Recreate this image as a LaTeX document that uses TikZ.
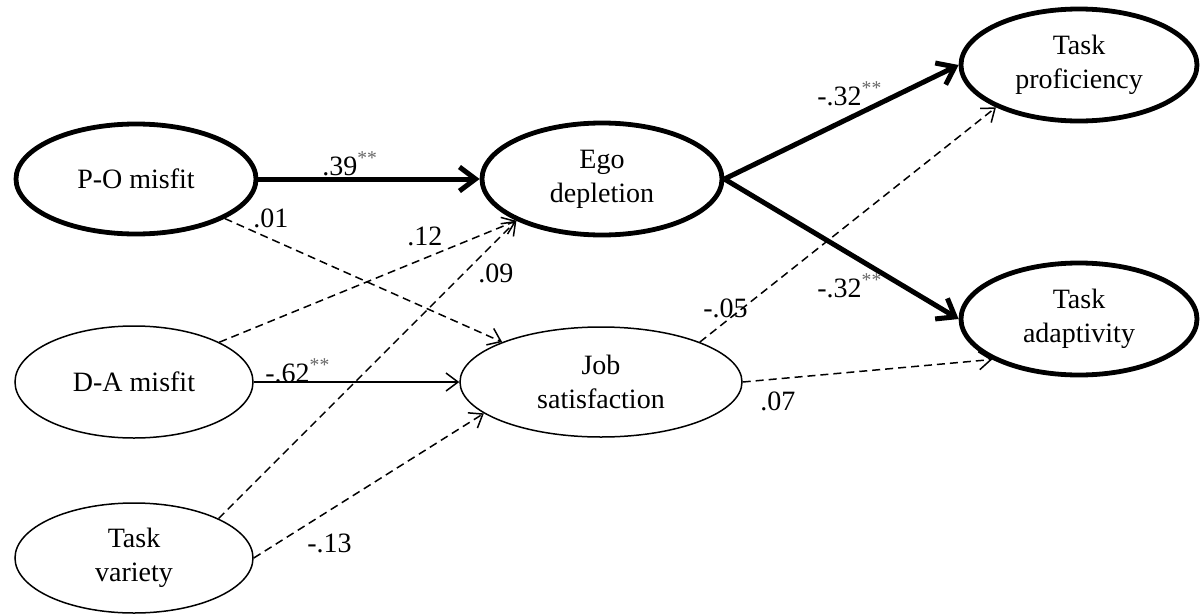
\documentclass[tikz,border=0pt]{standalone}
\usepackage{fontspec}
\setmainfont{Liberation Serif}
\usetikzlibrary{shapes.geometric,arrows.meta}

\begin{document}
\begin{tikzpicture}[x=0.5pt,y=-0.5pt,
var/.style={%
ellipse,
draw,
line width=0.75pt,
align=center,
inner sep=1pt,
minimum width=119pt,
minimum height=56pt,
font=\fontsize{14}{17}\selectfont
},
keyvar/.style={%
var,
line width=2.4pt
},
sig/.style={%
line width=2.5pt,
-{Straight Barb[length=8pt,width=12pt]}
},
weak/.style={%
line width=0.75pt,
-{Straight Barb[length=6pt,width=9pt]}
},
ns/.style={%
weak,
dash pattern=on 4pt off 2.5pt
},
coef/.style={%
anchor=base west,
inner sep=0pt,
font=\fontsize{14}{17}\selectfont
},
]
\useasboundingbox (0,0) rectangle (1201,616);
%% Variables
\node[keyvar,minimum width=120pt,minimum height=55pt](po)at(136,179){P-O misfit};
\node[var](da)at(134,382){D-A misfit};
\node[var,minimum height=55pt](tv)at(134,558){Task\\variety};
\node[keyvar,minimum width=120pt](ego)at(602,179){Ego\\depletion};
\node[var,minimum width=141pt,minimum height=55pt](js)at(601,382){Job\\satisfaction};
\node[keyvar,minimum width=118pt](tp)at(1079,65){Task\\proficiency};
\node[keyvar,minimum width=118pt](ta)at(1079,319){Task\\adaptivity};
%% Paths
\draw[sig](po)--(ego);
\draw[sig](ego.east)--(tp.west);
\draw[sig](ego.east)--(ta.west);
\draw[weak](da)--(js);
\draw[ns](po.-24)--(js.158);
\draw[ns](da.25)--(ego.206);
\draw[ns](tv.25)--(ego.206);
\draw[ns](tv.east)--(js.195);
\draw[ns](js.22)--(tp.207);
\draw[ns](js.east)--(ta.205);
%% Coefficients
\node[coef](c39)at(322,175){.39\textsuperscript{\color{black!60}**}};
\node[coef](c01)at(253,227){.01};
\node[coef](c12)at(407,245){.12};
\node[coef](c09)at(478,282){.09};
\node[coef](c62)at(265,382){-.62\textsuperscript{\color{black!60}**}};
\node[coef](c13)at(307,552){-.13};
\node[coef](c05)at(703,317){-.05};
\node[coef](c07)at(760,410){.07};
\node[coef](c32a)at(817,105){-.32\textsuperscript{\color{black!60}**}};
\node[coef](c32b)at(817,297){-.32\textsuperscript{\color{black!60}**}};
\end{tikzpicture}
\end{document}
